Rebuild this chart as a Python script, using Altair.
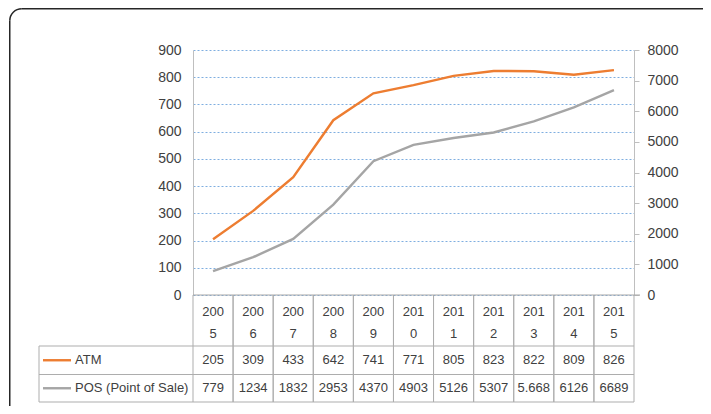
import altair as alt
import pandas as pd
import math

# ---- data ----
years = ["2005", "2006", "2007", "2008", "2009", "2010", "2011", "2012", "2013", "2014", "2015"]
atm = [205, 309, 433, 642, 741, 771, 805, 823, 822, 809, 826]
pos = [779, 1234, 1832, 2953, 4370, 4903, 5126, 5307, 5668, 6126, 6689]
pos_labels = ["779", "1234", "1832", "2953", "4370", "4903", "5126", "5307", "5.668", "6126", "6689"]
series_names = ["ATM", "POS (Point of Sale)"]
series_colors = ["#ED7D31", "#A5A5A5"]
left_ticks = list(range(0, 901, 100))
right_ticks = list(range(0, 8001, 1000))

df = pd.DataFrame({
    "year": years,
    "atm": atm,
    "pos": pos,
    "atm_label": [str(v) for v in atm],
    "pos_label": pos_labels,
    "c1": [y[:3] for y in years],
    "c2": [y[3:] for y in years],
})

FONT = "Liberation Sans Narrow, Liberation Sans, Arial, sans-serif"
TXT = "#404040"
LINEC = "#ADADAD"

W, H = 441, 245
# table geometry (plot coordinates)
ROW1 = 296      # line under category row
ROW2 = 324.5    # line under ATM row
ROW3 = 352      # bottom of table
LEG_X = -154    # left edge of legend column

xscale = alt.Scale(type="band", paddingInner=0, paddingOuter=0)
xc = lambda bp=0.5: alt.X("year:N", scale=xscale, axis=None, sort=years, bandPosition=bp)

base = alt.Chart(df)

atm_line = base.mark_line(color=series_colors[0], strokeWidth=2.4).encode(
    x=xc(),
    y=alt.Y("atm:Q", scale=alt.Scale(domain=[0, 900], nice=False),
            axis=alt.Axis(orient="left", values=left_ticks, title=None, grid=True,
                          gridColor="#7FAEE0", gridDash=[2, 2], gridWidth=1,
                          ticks=False, tickSize=0, labelPadding=12, format="d",
                          domainColor="#BFBFBF", labelFontSize=14, labelFont=FONT,
                          labelColor=TXT)),
)

pos_line = base.mark_line(color=series_colors[1], strokeWidth=2.4).encode(
    x=xc(),
    y=alt.Y("pos:Q", scale=alt.Scale(domain=[0, 8000], nice=False),
            axis=alt.Axis(orient="right", values=right_ticks, title=None, grid=False,
                          ticks=True, tickSize=5, tickColor="#BFBFBF", labelPadding=8,
                          format="d",
                          domainColor="#BFBFBF", labelFontSize=14, labelFont=FONT,
                          labelColor=TXT)),
)

lines = alt.layer(atm_line, pos_line).resolve_scale(y="independent")

# ---- data table ----
txt = dict(font=FONT, fontSize=13, color=TXT, align="center", baseline="middle")
cat1 = base.mark_text(**txt).encode(x=xc(), y=alt.value(262), text="c1:N")
cat2 = base.mark_text(**txt).encode(x=xc(), y=alt.value(284), text="c2:N")
atm_t = base.mark_text(**txt).encode(x=xc(), y=alt.value((ROW1 + ROW2) / 2), text="atm_label:N")
pos_t = base.mark_text(**txt).encode(x=xc(), y=alt.value((ROW2 + ROW3) / 2), text="pos_label:N")

vleft = base.mark_rule(color=LINEC, strokeWidth=1).encode(
    x=xc(0), y=alt.value(H), y2=alt.value(ROW3))
vright = base.mark_rule(color=LINEC, strokeWidth=1).encode(
    x=xc(1), y=alt.value(H), y2=alt.value(ROW3))

one = pd.DataFrame({"k": [0]})
hrules = []
hrules.append(alt.Chart(one).mark_rule(color="#A6A6A6", strokeWidth=1).encode(
    x=alt.value(0), x2=alt.value(W + 6), y=alt.value(H)))
for yy in (ROW1, ROW2, ROW3):
    hrules.append(alt.Chart(one).mark_rule(color=LINEC, strokeWidth=1).encode(
        x=alt.value(LEG_X), x2=alt.value(W), y=alt.value(yy)))
hrules.append(alt.Chart(one).mark_rule(color=LINEC, strokeWidth=1).encode(
    x=alt.value(LEG_X), y=alt.value(ROW1), y2=alt.value(ROW3)))

legend_layers = []
row_mid = [(ROW1 + ROW2) / 2, (ROW2 + ROW3) / 2]
for i, name in enumerate(series_names):
    ld = pd.DataFrame({"name": [name]})
    legend_layers.append(alt.Chart(ld).mark_rule(color=series_colors[i], strokeWidth=2.4).encode(
        x=alt.value(LEG_X + 4), x2=alt.value(LEG_X + 32), y=alt.value(row_mid[i])))
    legend_layers.append(alt.Chart(ld).mark_text(font=FONT, fontSize=13, color=TXT,
                                                 align="left", baseline="middle").encode(
        x=alt.value(LEG_X + 36), y=alt.value(row_mid[i]), text="name:N"))

# ---- rounded outer frame (top + left edges, top-left corner) ----
FR_L, FR_T, RAD = -183.25, -41.25, 12
FRAME_C = "#262626"
frame_top = alt.Chart(one).mark_rule(color=FRAME_C, strokeWidth=1.5).encode(
    x=alt.value(FR_L + RAD), x2=alt.value(W + 69), y=alt.value(FR_T))
frame_left = alt.Chart(one).mark_rule(color=FRAME_C, strokeWidth=1.5).encode(
    x=alt.value(FR_L), y=alt.value(FR_T + RAD), y2=alt.value(H + 111))
frame_corner = alt.Chart(one).mark_arc(
    filled=False, stroke=FRAME_C, strokeWidth=1.5, radius=RAD, radius2=RAD,
    theta=1.5 * math.pi, theta2=2 * math.pi,
).encode(x=alt.value(FR_L + RAD), y=alt.value(FR_T + RAD))

chart = alt.layer(
    frame_top, frame_left, frame_corner, lines, cat1, cat2, atm_t, pos_t,
    vleft, vright, *hrules, *legend_layers
).resolve_scale(y="independent").properties(
    width=W, height=H,
    autosize=alt.AutoSizeParams(type="none"),
    padding={"left": 185, "top": 42, "right": 69, "bottom": 111},
    background="white",
).configure_view(stroke=None)

chart.save("out.html", embed_options={"renderer": "svg", "actions": False})
